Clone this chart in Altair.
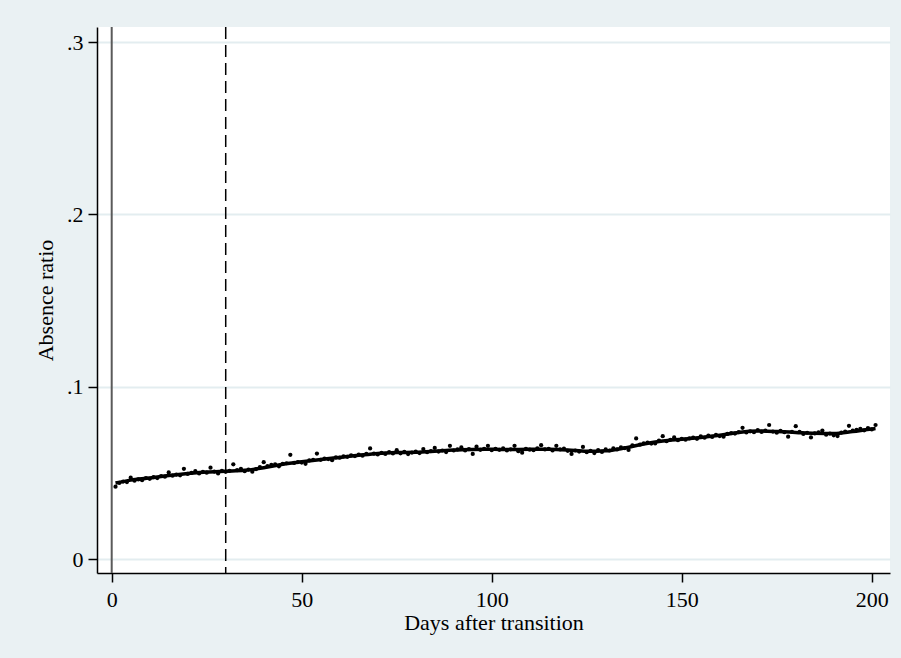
import altair as alt
import pandas as pd

# --- data ---
days = list(range(1, 202))
ratio = [
    0.0420, 0.0442, 0.0450, 0.0447, 0.0472, 0.0455, 0.0462, 0.0458, 0.0470, 0.0466,
    0.0476, 0.0470, 0.0482, 0.0478, 0.0503, 0.0484, 0.0490, 0.0486, 0.0524, 0.0494,
    0.0500, 0.0510, 0.0497, 0.0506, 0.0501, 0.0530, 0.0508, 0.0497, 0.0512, 0.0506,
    0.0512, 0.0550, 0.0516, 0.0524, 0.0510, 0.0519, 0.0507, 0.0522, 0.0533, 0.0562,
    0.0540, 0.0546, 0.0550, 0.0538, 0.0552, 0.0556, 0.0605, 0.0558, 0.0563, 0.0560,
    0.0553, 0.0572, 0.0575, 0.0612, 0.0576, 0.0583, 0.0580, 0.0574, 0.0590, 0.0588,
    0.0596, 0.0593, 0.0602, 0.0598, 0.0606, 0.0600, 0.0610, 0.0642, 0.0612, 0.0607,
    0.0616, 0.0610, 0.0620, 0.0613, 0.0632, 0.0614, 0.0622, 0.0609, 0.0618, 0.0623,
    0.0615, 0.0638, 0.0620, 0.0627, 0.0645, 0.0624, 0.0630, 0.0621, 0.0657, 0.0630,
    0.0636, 0.0648, 0.0630, 0.0638, 0.0610, 0.0652, 0.0634, 0.0640, 0.0657, 0.0632,
    0.0640, 0.0634, 0.0642, 0.0630, 0.0637, 0.0657, 0.0626, 0.0617, 0.0640, 0.0635,
    0.0632, 0.0643, 0.0661, 0.0636, 0.0640, 0.0630, 0.0657, 0.0636, 0.0641, 0.0628,
    0.0610, 0.0630, 0.0624, 0.0651, 0.0620, 0.0628, 0.0615, 0.0632, 0.0622, 0.0636,
    0.0630, 0.0642, 0.0636, 0.0648, 0.0644, 0.0633, 0.0660, 0.0700, 0.0664, 0.0672,
    0.0676, 0.0670, 0.0671, 0.0688, 0.0713, 0.0684, 0.0692, 0.0706, 0.0690, 0.0697,
    0.0693, 0.0700, 0.0705, 0.0698, 0.0712, 0.0704, 0.0716, 0.0709, 0.0720, 0.0714,
    0.0710, 0.0726, 0.0731, 0.0728, 0.0737, 0.0762, 0.0735, 0.0741, 0.0736, 0.0748,
    0.0738, 0.0745, 0.0778, 0.0740, 0.0733, 0.0744, 0.0736, 0.0710, 0.0738, 0.0771,
    0.0738, 0.0726, 0.0733, 0.0706, 0.0729, 0.0735, 0.0746, 0.0722, 0.0728, 0.0718,
    0.0714, 0.0734, 0.0740, 0.0773, 0.0745, 0.0750, 0.0756, 0.0747, 0.0760, 0.0752,
    0.0778,
]

smooth_days = [1, 5, 10, 15, 20, 25, 30, 35, 40, 45, 50, 55, 60, 65, 70, 75, 80,
               85, 90, 95, 100, 105, 110, 115, 120, 125, 130, 135, 140, 145, 150,
               155, 160, 165, 170, 175, 180, 185, 190, 195, 200, 201]
smooth_vals = [0.0441, 0.0458, 0.0470, 0.0485, 0.0497, 0.0505, 0.0510, 0.0515,
               0.0530, 0.0550, 0.0565, 0.0578, 0.0590, 0.0602, 0.0613, 0.0618,
               0.0620, 0.0626, 0.0633, 0.0636, 0.0637, 0.0636, 0.0637, 0.0637,
               0.0633, 0.0625, 0.0628, 0.0645, 0.0668, 0.0685, 0.0695, 0.0705,
               0.0718, 0.0735, 0.0743, 0.0740, 0.0735, 0.0730, 0.0728, 0.0740,
               0.0755, 0.0757]

solid_line_day = [0]
dashed_line_day = [30]

x_ticks = [0, 50, 100, 150, 200]
y_ticks = [0, 0.1, 0.2, 0.3]

pts = pd.DataFrame({"day": days, "ratio": ratio})
smooth = pd.DataFrame({"day": smooth_days, "ratio": smooth_vals})
solid = pd.DataFrame({"day": solid_line_day})
dashed = pd.DataFrame({"day": dashed_line_day})

FONT = "Liberation Serif"
xscale = alt.Scale(domain=[-3.87, 204.8], nice=False, zero=False)
yscale = alt.Scale(domain=[-0.0081, 0.3088], nice=False, zero=False)

xaxis = alt.Axis(values=x_ticks, title="Days after transition", grid=False,
                 labelPadding=7, titlePadding=2, format="d")
yaxis = alt.Axis(values=y_ticks, title="Absence ratio", grid=True,
                 labelPadding=5, titlePadding=9,
                 labelExpr="datum.value == 0 ? '0' : '.' + format(datum.value * 10, '.0f')")

points = alt.Chart(pts).mark_circle(size=18, color="black", opacity=1).encode(
    x=alt.X("day:Q", scale=xscale, axis=xaxis),
    y=alt.Y("ratio:Q", scale=yscale, axis=yaxis),
)

line = alt.Chart(smooth).mark_line(color="black", strokeWidth=3.5, interpolate="monotone").encode(
    x=alt.X("day:Q", scale=xscale),
    y=alt.Y("ratio:Q", scale=yscale),
)

vsolid = alt.Chart(solid).mark_rule(color="#5a5a5a", strokeWidth=2).encode(
    x=alt.X("day:Q", scale=xscale)
)
vdash = alt.Chart(dashed).mark_rule(color="black", strokeWidth=1.5, strokeDash=[12, 6]).encode(
    x=alt.X("day:Q", scale=xscale)
)

chart = alt.layer(vsolid, vdash, line, points).properties(
    width=793, height=546,
    autosize=alt.AutoSizeParams(type="none"),
    padding={"left": 97, "top": 27, "right": 11, "bottom": 85},
    background="#EAF1F3",
).configure_view(
    fill="white", stroke=None
).configure_axis(
    labelFont=FONT, titleFont=FONT, labelFontSize=22, titleFontSize=22,
    titleFontWeight="normal", labelColor="black", titleColor="black",
    domainColor="black", domainWidth=1.5, tickColor="black", tickWidth=1.5,
    tickSize=9, gridColor="#E3EDF0", gridWidth=2,
)

chart.save("out.html", embed_options={"renderer": "svg", "actions": False})
